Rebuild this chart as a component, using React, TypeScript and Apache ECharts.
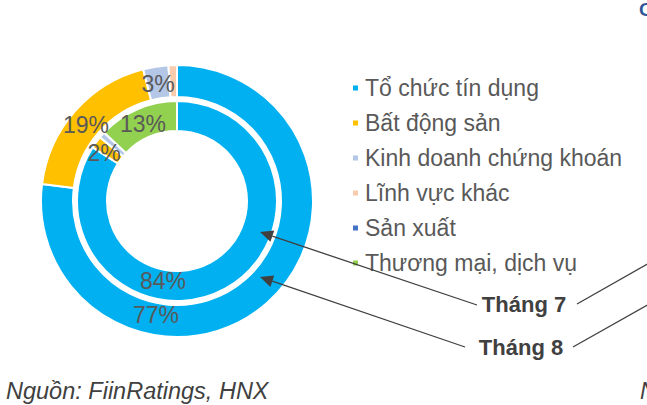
import { useEffect, useRef } from 'react';
import * as echarts from 'echarts';

const categories = [
  'Tổ chức tín dụng',
  'Bất động sản',
  'Kinh doanh chứng khoán',
  'Lĩnh vực khác',
  'Sản xuất',
  'Thương mại, dịch vụ',
];
const colors = ['#00B0F0', '#FFC000', '#B4C7E7', '#F8CBAD', '#4472C4', '#92D050'];
// Tháng 7 = inner ring, Tháng 8 = outer ring (percent)
const thang7 = [84, 2, 1, 0, 0, 13];
const thang8 = [77, 19, 3, 1, 0, 0];
const monthLabels = ['Tháng 7', 'Tháng 8'];
const sourceText = 'Nguồn: FiinRatings, HNX';

// hand placed label spots, like the Excel original
const innerLabelPos: Record<number, [number, number]> = { 0: [163, 281], 1: [104, 153], 5: [143, 124] };
const outerLabelPos: Record<number, [number, number]> = { 0: [156, 315], 1: [86, 125], 2: [158, 84] };

const FONT = '"Liberation Sans", Arial, sans-serif';
const INK = '#404040';

function arrow(sx: number, sy: number, tx: number, ty: number) {
  const len = Math.hypot(tx - sx, ty - sy);
  const ux = (tx - sx) / len;
  const uy = (ty - sy) / len;
  const bx = tx - ux * 13;
  const by = ty - uy * 13;
  const nx = -uy * 6;
  const ny = ux * 6;
  return [
    { type: 'line', z: 20, shape: { x1: sx, y1: sy, x2: bx, y2: by }, style: { stroke: INK, lineWidth: 1.3 } },
    { type: 'polygon', z: 20, shape: { points: [[tx, ty], [bx + nx, by + ny], [bx - nx, by - ny]] }, style: { fill: INK } },
  ];
}

export default function App() {
  const chartRef = useRef<HTMLDivElement>(null);

  useEffect(() => {
    if (!chartRef.current) return;
    const chart = echarts.init(chartRef.current, undefined, { renderer: 'svg' });

    const ringData = (vals: number[]) =>
      vals.map((v, i) => ({
        value: v,
        name: categories[i],
        itemStyle: { color: colors[i] },
        label: { show: v >= 2 },
      }));

    const labelStyle = {
      position: 'inside',
      formatter: '{c}%',
      color: '#595959',
      fontSize: 23,
      fontFamily: FONT,
    };

    const layoutFrom = (table: Record<number, [number, number]>) => (p: any) => {
      const pos = table[p.dataIndex];
      return pos ? { x: pos[0], y: pos[1], align: 'center', verticalAlign: 'middle' } : {};
    };

    chart.setOption({
      animation: false,
      legend: {
        orient: 'vertical',
        left: 346,
        top: 71,
        icon: 'rect',
        itemWidth: 7,
        itemHeight: 7,
        itemGap: 11,
        selectedMode: false,
        data: categories,
        textStyle: { color: '#595959', fontSize: 23, lineHeight: 24, fontFamily: FONT, padding: [0, 0, 0, 1] },
      },
      series: [
        {
          type: 'pie',
          center: [177, 201],
          radius: [70, 100],
          startAngle: 90,
          clockwise: true,
          silent: true,
          itemStyle: { borderColor: '#fff', borderWidth: 2 },
          label: labelStyle,
          labelLine: { show: false },
          labelLayout: layoutFrom(innerLabelPos),
          data: ringData(thang7),
        },
        {
          type: 'pie',
          center: [177, 201],
          radius: [104, 136],
          startAngle: 90,
          clockwise: true,
          silent: true,
          itemStyle: { borderColor: '#fff', borderWidth: 2 },
          label: labelStyle,
          labelLine: { show: false },
          labelLayout: layoutFrom(outerLabelPos),
          data: ringData(thang8),
        },
      ],
      graphic: [
        ...arrow(477, 305, 260, 232),
        ...arrow(465, 347, 260, 277),
        { type: 'line', z: 20, shape: { x1: 577, y1: 304, x2: 660, y2: 257 }, style: { stroke: INK, lineWidth: 1.3 } },
        { type: 'line', z: 20, shape: { x1: 573, y1: 347, x2: 660, y2: 298 }, style: { stroke: INK, lineWidth: 1.3 } },
        {
          type: 'text',
          z: 20,
          x: 524,
          y: 304,
          style: { text: monthLabels[0], font: `bold 22px ${FONT}`, fill: INK, align: 'center', verticalAlign: 'middle' },
        },
        {
          type: 'text',
          z: 20,
          x: 521,
          y: 347,
          style: { text: monthLabels[1], font: `bold 22px ${FONT}`, fill: INK, align: 'center', verticalAlign: 'middle' },
        },
        {
          type: 'text',
          x: 6,
          y: 391,
          style: { text: sourceText, font: `italic 23.5px ${FONT}`, fill: INK, verticalAlign: 'middle' },
        },
        {
          type: 'text',
          x: 640,
          y: 391,
          style: { text: 'N', font: `italic 23px ${FONT}`, fill: INK, verticalAlign: 'middle' },
        },
        {
          type: 'text',
          x: 639,
          y: 9,
          style: { text: 'C', font: `bold 19px ${FONT}`, fill: '#2F5597', verticalAlign: 'middle' },
        },
      ],
    });

    return () => {
      chart.dispose();
    };
  }, []);

  return (
    <div
      ref={chartRef}
      style={{ position: 'fixed', left: 0, top: 0, width: 647, height: 405, background: '#fff' }}
    />
  );
}
